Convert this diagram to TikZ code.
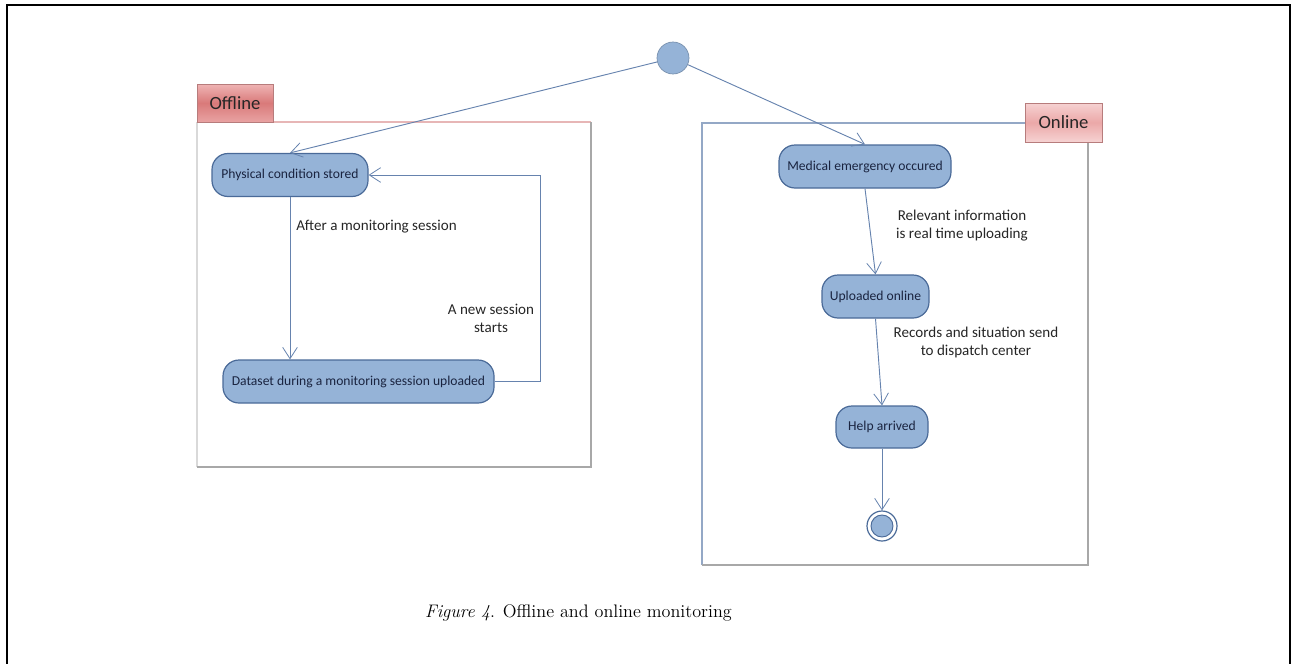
\documentclass[tikz,border=0pt]{standalone}
\usepackage{fontspec}
\newfontfamily\uifont{Carlito}
\usetikzlibrary{arrows.meta,shapes.geometric}
\definecolor{nodefill}{HTML}{95B3D7}
\definecolor{nodedraw}{HTML}{4A6A98}
\definecolor{nodetext}{HTML}{1A2440}
\definecolor{linecol}{HTML}{6683AE}
\definecolor{tabtop}{HTML}{EFB4B4}
\definecolor{tabmid}{HTML}{D97A7A}
\definecolor{tabtopl}{HTML}{F6D2D2}
\definecolor{tabmidl}{HTML}{EBA8A8}
\definecolor{tabdraw}{HTML}{B77C7C}
\definecolor{framered}{HTML}{E7B6B6}
\definecolor{framegray}{HTML}{A8A8A8}
\tikzset{
  state/.style={rounded corners=12pt, draw=nodedraw, fill=nodefill, line width=0.9pt,
    font=\uifont\fontsize{10.2}{12}\selectfont, text=nodetext, inner sep=0pt,
    minimum height=43*0.75pt},
  flow/.style={draw=linecol, line width=0.7pt, -{Straight Barb[length=8.5pt,width=11pt,line width=0.6pt]}},
  lbl/.style={font=\uifont\fontsize{11.3}{13.5}\selectfont, text=black!85, align=center, inner sep=0pt},
  tablbl/.style={font=\uifont\fontsize{14}{16}\selectfont, text=black!85, draw=tabdraw, line width=0.6pt, inner sep=0pt},
}
\begin{document}
\begin{tikzpicture}[x=0.75pt,y=-0.75pt]
\useasboundingbox (0,0) rectangle (1296,664);
% outer frame
\draw[line width=1.6pt, black] (7,664) -- (7,5) -- (1290,5) -- (1290,664);

% Offline frame
\draw[framered, line width=0.8pt] (273,122) -- (591,122);
\draw[black!15, line width=0.8pt] (197,122) -- (197,467);
\draw[framegray, line width=1.6pt] (591,122) -- (591,467) -- (197,467);
\node[tablbl, top color=tabtop, bottom color=tabtop!70!tabmid, middle color=tabmid, minimum width=76*0.75pt, minimum height=38*0.75pt] (offtab) at (235,103) {Offline};

% Online frame
\draw[linecol!70, line width=0.8pt] (1025,123) -- (702,123) -- (702,565);
\draw[framegray, line width=1.8pt] (1088,142) -- (1088,565) -- (702,565);
\node[tablbl, top color=tabtopl, bottom color=tabtopl, middle color=tabmidl, minimum width=77*0.75pt, minimum height=39*0.75pt] (ontab) at (1063.5,122.5) {Online};

% start / end
\node[circle, fill=nodefill, draw=nodefill!80!black, line width=0.5pt, minimum size=32*0.75pt, inner sep=0pt] (start) at (673,58) {};
\node[circle, draw=nodedraw, line width=0.9pt, minimum size=30*0.75pt, inner sep=0pt] (end) at (882,526) {};
\node[circle, fill=nodefill, draw=nodedraw, line width=0.7pt, minimum size=22*0.75pt, inner sep=0pt] (endin) at (end.center) {};

% states
\node[state, minimum width=156*0.75pt] (phys) at (290,175) {Physical condition stored};
\node[state, minimum width=271*0.75pt] (data) at (358.5,381.5) {Dataset during a monitoring session uploaded};
\node[state, minimum width=172*0.75pt] (med) at (865,166.5) {Medical emergency occured};
\node[state, minimum width=107*0.75pt] (upl) at (875.5,296.5) {Uploaded online};
\node[state, minimum width=92*0.75pt, minimum height=42*0.75pt] (help) at (882,427) {Help arrived};

% connectors
\draw[flow] (start) -- (phys.north);
\draw[flow] (start) -- (med.north);
\draw[flow] (phys.south) -- (phys.south |- data.north);
\coordinate (loopx) at (540,381.5);
\draw[flow] (data.east) -- (loopx) |- (phys.east);
\draw[flow] (med.south) -- (upl.north);
\draw[flow] (upl.south) -- (help.north);
\draw[flow] (help.south) -- (end.north);

% labels
\node[lbl, anchor=west] (l1) at (296,227) {After a monitoring session};
\node[lbl] (l2) at (491,318) {A new session\\starts};
\node[lbl] (l3) at (962,226) {Relevant information\\is real time uploading};
\node[lbl] (l4) at (976,342) {Records and situation send\\to dispatch center};

% caption
\node[font=\fontsize{13.6}{16}\selectfont] (cap) at (578.5,613) {\textit{Figure 4}. Offline and online monitoring};
\end{tikzpicture}
\end{document}
